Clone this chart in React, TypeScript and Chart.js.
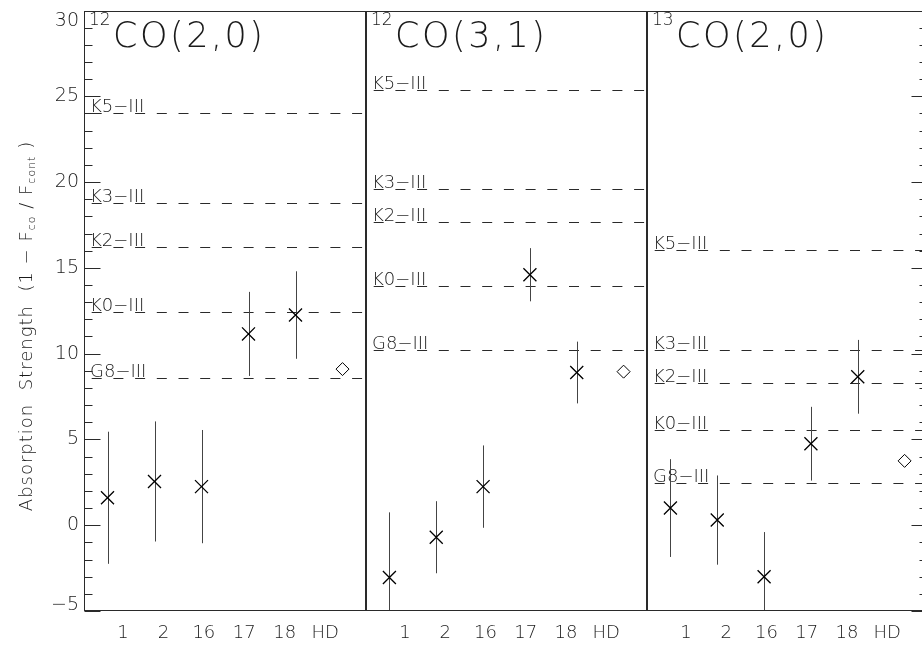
import React, { useEffect, useRef } from 'react';
import { Chart, registerables } from 'chart.js';

Chart.register(...registerables);

// ---------- data ----------
const CATEGORIES = ['1', '2', '16', '17', '18', 'HD'];
const REF_LABELS = ['K5−III', 'K3−III', 'K2−III', 'K0−III', 'G8−III'];

// 12CO(2,0)
const P1_ISO = '12';
const P1_BAND = 'CO(2,0)';
const P1_VALUES = [1.6, 2.55, 2.25, 11.15, 12.25];
const P1_ERRORS = [3.85, 3.5, 3.3, 2.45, 2.55];
const P1_HD = 9.1;
const P1_REFS = [24.0, 18.8, 16.2, 12.4, 8.6];

// 12CO(3,1)
const P2_ISO = '12';
const P2_BAND = 'CO(3,1)';
const P2_VALUES = [-3.05, -0.7, 2.25, 14.6, 8.9];
const P2_ERRORS = [3.8, 2.1, 2.4, 1.55, 1.8];
const P2_HD = 8.95;
const P2_REFS = [25.35, 19.6, 17.7, 13.95, 10.2];

// 13CO(2,0)
const P3_ISO = '13';
const P3_BAND = 'CO(2,0)';
const P3_VALUES = [1.0, 0.3, -3.0, 4.75, 8.65];
const P3_ERRORS = [2.85, 2.6, 2.6, 2.15, 2.15];
const P3_HD = 3.75;
const P3_REFS = [16.05, 10.2, 8.3, 5.55, 2.45];

const Y_MIN = -5;
const Y_MAX = 30;
const Y_MAJOR = 5;
const Y_MINOR = 1;
const Y_TICKS = [-5, 0, 5, 10, 15, 20, 25, 30];

// ---------- style / layout ----------
const W = 922;
const H = 651;
const FAMILY = '"DejaVu Sans", "Liberation Sans", sans-serif';
const TEXT = '#1a1a1a';
const LINE = '#2a2a2a';
const LABEL_CENTER = 2.98;
const LABEL_STEP = 0.86;

const font = (size: number) => `200 ${size}px ${FAMILY}`;

const panelPlugin = {
  id: 'panel',
  beforeDatasetsDraw(chart: any, _a: any, o: any) {
    const { ctx, chartArea: a, scales } = chart;
    const y = scales.y;
    const x = scales.x;
    ctx.save();
    ctx.beginPath();
    ctx.rect(a.left, a.top, a.right - a.left, a.bottom - a.top);
    ctx.clip();
    // reference lines
    ctx.strokeStyle = LINE;
    ctx.lineWidth = 1;
    ctx.setLineDash([10, 11.7]);
    ctx.lineDashOffset = 14;
    ctx.font = font(18);
    ctx.fillStyle = TEXT;
    ctx.textAlign = 'left';
    ctx.textBaseline = 'alphabetic';
    (ctx as any).letterSpacing = '0px';
    o.refs.forEach((v: number, i: number) => {
      const py = Math.round(y.getPixelForValue(v)) + 0.5;
      ctx.beginPath();
      ctx.moveTo(a.left, py);
      ctx.lineTo(a.right, py);
      ctx.stroke();
      ctx.fillText(REF_LABELS[i], a.left + 6, py - 2);
    });
    ctx.setLineDash([]);
    // error bars
    ctx.strokeStyle = '#444';
    o.values.forEach((v: number, i: number) => {
      const px = Math.round(x.getPixelForValue(i)) + 0.5;
      ctx.beginPath();
      ctx.moveTo(px, y.getPixelForValue(v - o.errors[i]));
      ctx.lineTo(px, y.getPixelForValue(v + o.errors[i]));
      ctx.stroke();
    });
    ctx.restore();
  },
  afterDatasetsDraw(chart: any, _a: any, o: any) {
    const { ctx, chartArea: a, scales } = chart;
    const y = scales.y;
    ctx.save();
    // frame
    ctx.strokeStyle = LINE;
    ctx.lineWidth = 1;
    const l = Math.round(a.left) + 0.5;
    const r = Math.round(a.right) - 0.5;
    const t = Math.round(a.top) + 0.5;
    const b = Math.round(a.bottom) - 0.5;
    ctx.strokeRect(l, t, r - l, b - t);
    // inner ticks
    if (o.tickSide) {
      for (let v = Y_MIN; v <= Y_MAX; v += Y_MINOR) {
        const py = Math.round(y.getPixelForValue(v)) + 0.5;
        const len = v % Y_MAJOR === 0 ? 16 : 8;
        ctx.beginPath();
        if (o.tickSide === 'left') {
          ctx.moveTo(l, py);
          ctx.lineTo(l + len, py);
        } else {
          ctx.moveTo(r, py);
          ctx.lineTo(r - len, py);
        }
        ctx.stroke();
      }
    }
    // y tick labels
    ctx.fillStyle = TEXT;
    (ctx as any).letterSpacing = '0px';
    if (o.yLabels) {
      ctx.font = font(19);
      ctx.textAlign = 'right';
      ctx.textBaseline = 'middle';
      Y_TICKS.forEach((v) => {
        let py = y.getPixelForValue(v);
        py = Math.min(Math.max(py, a.top + 11), a.bottom - 6);
        const s = v < 0 ? '−' + Math.abs(v) : String(v);
        ctx.fillText(s, a.left - 5, py);
      });
      // y title
      ctx.save();
      ctx.translate(27, 326);
      ctx.rotate(-Math.PI / 2);
      const pieces = [
        { t: 'Absorption  Strength  (1 − F', sub: false },
        { t: 'co', sub: true },
        { t: ' / F', sub: false },
        { t: 'cont', sub: true },
        { t: ' )', sub: false },
      ];
      (ctx as any).letterSpacing = '1px';
      let total = 0;
      const widths = pieces.map((p) => {
        ctx.font = font(p.sub ? 11 : 18);
        const w = ctx.measureText(p.t).width;
        total += w;
        return w;
      });
      let cx = -total / 2;
      ctx.textAlign = 'left';
      ctx.textBaseline = 'middle';
      pieces.forEach((p, i) => {
        ctx.font = font(p.sub ? 11 : 18);
        ctx.fillText(p.t, cx, p.sub ? 5 : 0);
        cx += widths[i];
      });
      ctx.restore();
    }
    // panel title
    ctx.textAlign = 'left';
    ctx.textBaseline = 'alphabetic';
    (ctx as any).letterSpacing = '0px';
    ctx.font = font(17);
    ctx.fillText(o.iso, a.left + 5, 25);
    ctx.font = font(35);
    (ctx as any).letterSpacing = '2.5px';
    ctx.fillText(o.band, a.left + 29, 47);
    ctx.restore();
  },
};

function makeConfig(p: any): any {
  const labelPos = CATEGORIES.map((_c, i) => LABEL_CENTER + (i - 2.5) * LABEL_STEP);
  return {
    type: 'line',
    data: {
      labels: CATEGORIES,
      datasets: [
        {
          data: [...p.values, null],
          showLine: false,
          pointStyle: 'crossRot',
          pointRadius: 9.2,
          pointHoverRadius: 9.2,
          pointBorderColor: '#000',
          pointBorderWidth: 1.3,
          borderColor: '#000',
        },
        {
          data: [null, null, null, null, null, p.hd],
          showLine: false,
          pointStyle: 'rectRot',
          pointRadius: 6.5,
          pointHoverRadius: 6.5,
          pointBorderColor: '#000',
          pointBackgroundColor: '#fff',
          pointBorderWidth: 1,
          borderColor: '#000',
        },
      ],
    },
    options: {
      responsive: false,
      animation: false,
      devicePixelRatio: 1,
      events: [],
      layout: { padding: { left: p.padLeft, right: p.padRight, top: 10, bottom: 0 } },
      plugins: {
        legend: { display: false },
        tooltip: { enabled: false },
        panel: {
          refs: p.refs,
          values: p.values,
          errors: p.errors,
          iso: p.iso,
          band: p.band,
          tickSide: p.tickSide,
          yLabels: p.yLabels,
        },
      },
      scales: {
        x: { type: 'category', display: false, offset: true },
        xl: {
          type: 'linear',
          position: 'bottom',
          min: 0,
          max: 6,
          afterBuildTicks: (s: any) => {
            s.ticks = labelPos.map((v) => ({ value: v }));
          },
          afterFit: (s: any) => {
            s.height = 40;
          },
          ticks: {
            callback: (_v: any, i: number) => CATEGORIES[i],
            font: { family: FAMILY, size: 18, weight: 200 },
            color: TEXT,
            padding: 12,
            autoSkip: false,
            maxRotation: 0,
          },
          grid: { display: false, drawTicks: false },
          border: { display: false },
        },
        y: { type: 'linear', display: false, min: Y_MIN, max: Y_MAX },
      },
    },
    plugins: [panelPlugin],
  };
}

const PANELS = [
  { iso: P1_ISO, band: P1_BAND, values: P1_VALUES, errors: P1_ERRORS, hd: P1_HD, refs: P1_REFS, padLeft: 84, padRight: 556, width: W, tickSide: 'left', yLabels: true },
  { iso: P2_ISO, band: P2_BAND, values: P2_VALUES, errors: P2_ERRORS, hd: P2_HD, refs: P2_REFS, padLeft: 366, padRight: 275, width: W, tickSide: null, yLabels: false },
  { iso: P3_ISO, band: P3_BAND, values: P3_VALUES, errors: P3_ERRORS, hd: P3_HD, refs: P3_REFS, padLeft: 647, padRight: 12, width: 940, tickSide: 'right', yLabels: false },
];

export default function App() {
  const r1 = useRef<HTMLCanvasElement>(null);
  const r2 = useRef<HTMLCanvasElement>(null);
  const r3 = useRef<HTMLCanvasElement>(null);
  const refs = [r1, r2, r3];

  useEffect(() => {
    const charts = PANELS.map((p, i) => new Chart(refs[i].current as HTMLCanvasElement, makeConfig(p)));
    return () => charts.forEach((c) => c.destroy());
  }, []);

  return (
    <div style={{ position: 'absolute', left: 0, top: 0, width: W, height: H, overflow: 'hidden', background: '#fff' }}>
      {PANELS.map((p, i) => (
        <canvas
          key={i}
          ref={refs[i]}
          width={p.width}
          height={H}
          style={{ position: 'absolute', left: 0, top: 0, width: p.width, height: H }}
        />
      ))}
    </div>
  );
}
